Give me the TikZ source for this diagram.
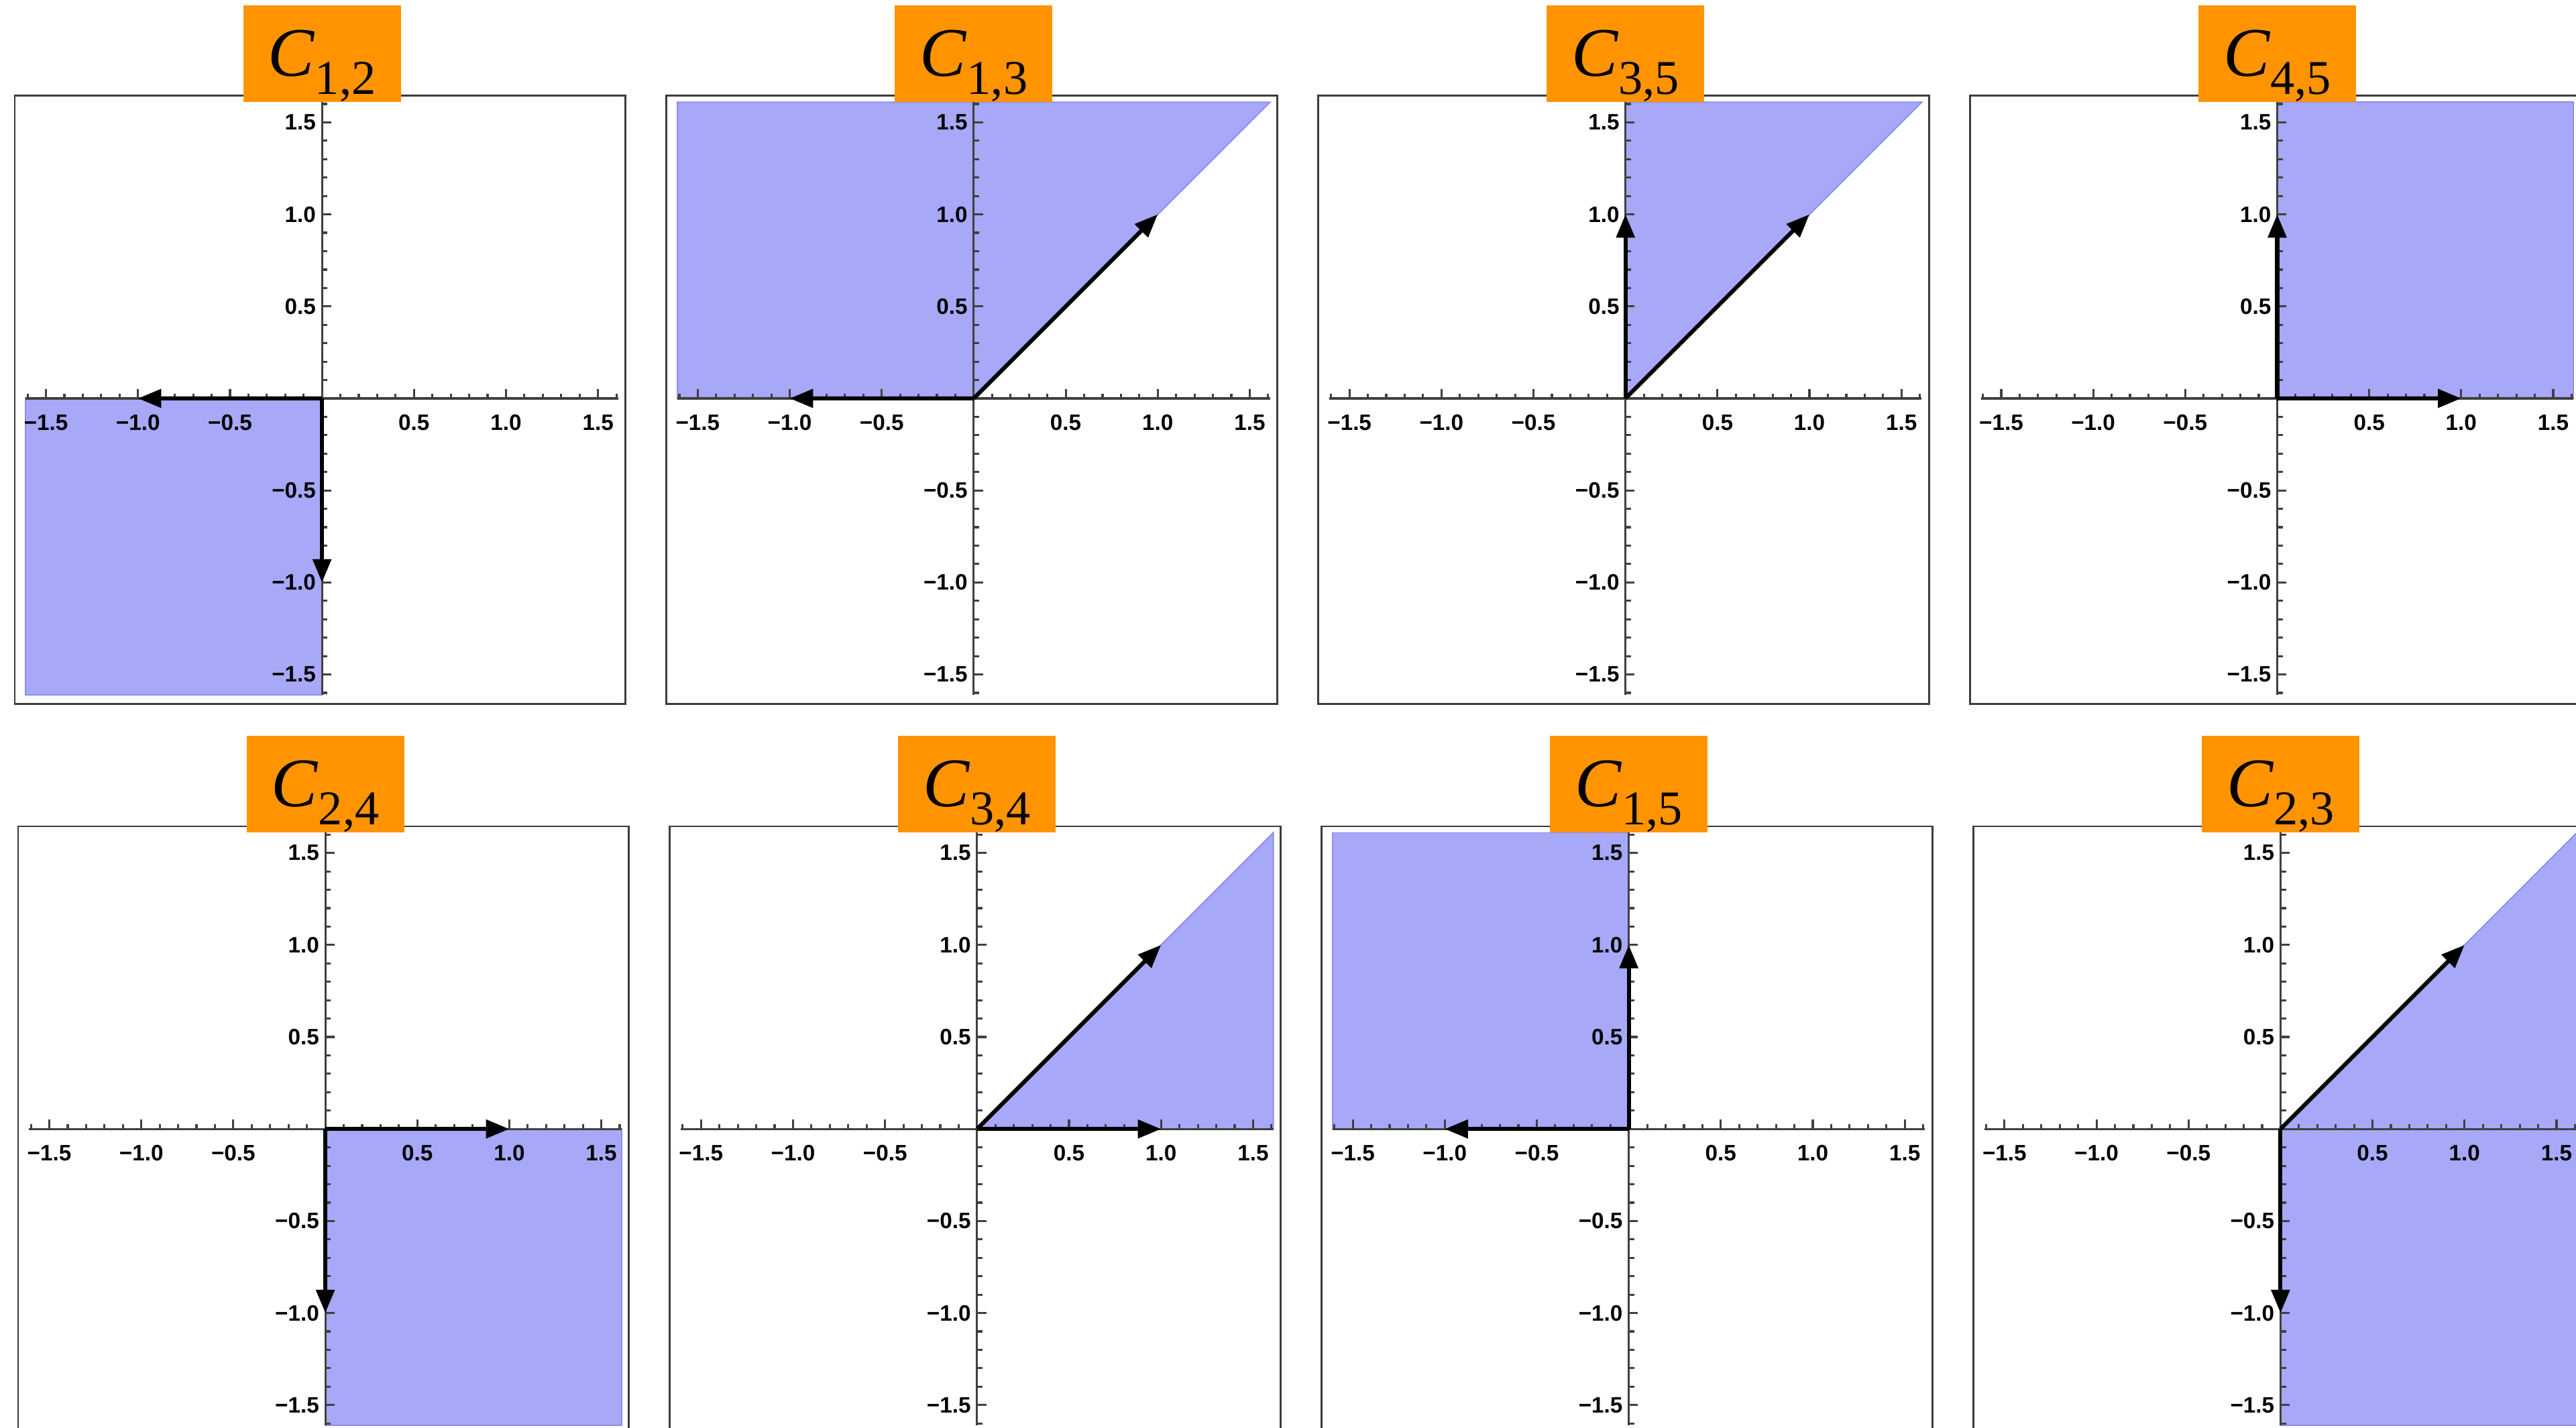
\documentclass[tikz,border=0pt]{standalone}
\usepackage{fontspec}
\setmainfont{Liberation Serif}
\newfontfamily\ticksf{Liberation Sans}
\usepackage{tikz}
\usetikzlibrary{positioning,arrows.meta,calc}
\usepackage{xcolor}
\definecolor{labelorange}{RGB}{255,148,0}
\definecolor{conefill}{RGB}{168,168,248}
\definecolor{coneedge}{RGB}{140,140,240}
\definecolor{framegray}{RGB}{60,60,60}
\newcommand{\clabel}[1]{\textit{C}\raisebox{-5.5pt}{\fontsize{15}{17}\selectfont #1}}
\newcommand{\coneplot}[4]{%
  \begin{scope}[shift={(o#1)}]
    \draw[plotframe] (-1.67,-1.66) rectangle (1.65,1.645);
    \path[cone] #3;
    \draw[axisline] (-1.61,0) -- (1.61,0);
    \draw[axisline] (0,-1.61) -- (0,1.61);
    \foreach \k in {-16,...,16} {
      \draw[axisline] (\k/10,0) -- ++(0,0.026);
      \draw[axisline] (0,\k/10) -- ++(0.03,0);
    }
    \foreach \k in {-15,-10,-5,5,10,15} {
      \draw[axisline] (\k/10,0) -- ++(0,0.05);
      \draw[axisline] (0,\k/10) -- ++(0.05,0);
    }
    \foreach \v/\t [count=\i] in {-1.5/−1.5,-1.0/−1.0,-0.5/−0.5,0.5/0.5,1.0/1.0,1.5/1.5} {
      \node[xtick] (xt#1-\i) at (\v,-0.085) {\t};
      \node[ytick] (yt#1-\i) at (-0.03,\v) {\t};
    }
  \end{scope}
  \foreach \dx/\dy in {#4} \draw[vec] (o#1) -- ++(\dx,\dy);
  \node[lab] (lab#1) at ($(o#1)+(0,1.873)$) {\clabel{#2}};
}

\begin{document}
\begin{tikzpicture}[
  x=2cm, y=2cm,
  plotframe/.style={draw=framegray, line width=0.55pt},
  cone/.style={fill=conefill, draw=coneedge, line width=0.4pt},
  axisline/.style={draw=black!75, line width=0.65pt},
  vec/.style={line width=1.25pt, -{Triangle[length=7.2pt,width=5.6pt]}},
  xtick/.style={anchor=north, inner sep=0pt, font=\ticksf\bfseries\fontsize{6.9}{7}\selectfont},
  ytick/.style={anchor=east, inner sep=0pt, font=\ticksf\bfseries\fontsize{6.9}{7}\selectfont},
  lab/.style={fill=labelorange, minimum width=1.714cm, minimum height=1.05cm, inner sep=0pt,
              text height=15.5pt, text depth=1.6pt, font=\fontsize{21.5}{25}\selectfont}
]
\useasboundingbox (0,0) rectangle (14,-7.759);
\clip (0,0) rectangle (14,-7.759);
\coordinate (o12) at (1.75,-2.165);
\coordinate (o13) at (5.292,-2.165);
\coordinate (o35) at (8.834,-2.165);
\coordinate (o45) at (12.376,-2.165);
\coordinate (o24) at (1.768,-6.135);
\coordinate (o34) at (5.31,-6.135);
\coordinate (o15) at (8.852,-6.135);
\coordinate (o23) at (12.394,-6.135);

\coneplot{12}{1,2}{(-1.61,-1.61) rectangle (0,0)}{-1/0,0/-1}
\coneplot{13}{1,3}{(-1.61,0) -- (0,0) -- (1.61,1.61) -- (-1.61,1.61) -- cycle}{-1/0,1/1}
\coneplot{35}{3,5}{(0,0) -- (1.61,1.61) -- (0,1.61) -- cycle}{0/1,1/1}
\coneplot{45}{4,5}{(0,0) rectangle (1.61,1.61)}{1/0,0/1}
\coneplot{24}{2,4}{(0,-1.61) rectangle (1.61,0)}{1/0,0/-1}
\coneplot{34}{3,4}{(0,0) -- (1.61,0) -- (1.61,1.61) -- cycle}{1/0,1/1}
\coneplot{15}{1,5}{(-1.61,0) rectangle (0,1.61)}{-1/0,0/1}
\coneplot{23}{2,3}{(0,0) -- (1.61,1.61) -- (1.61,-1.61) -- (0,-1.61) -- cycle}{1/1,0/-1}
\end{tikzpicture}
\end{document}
